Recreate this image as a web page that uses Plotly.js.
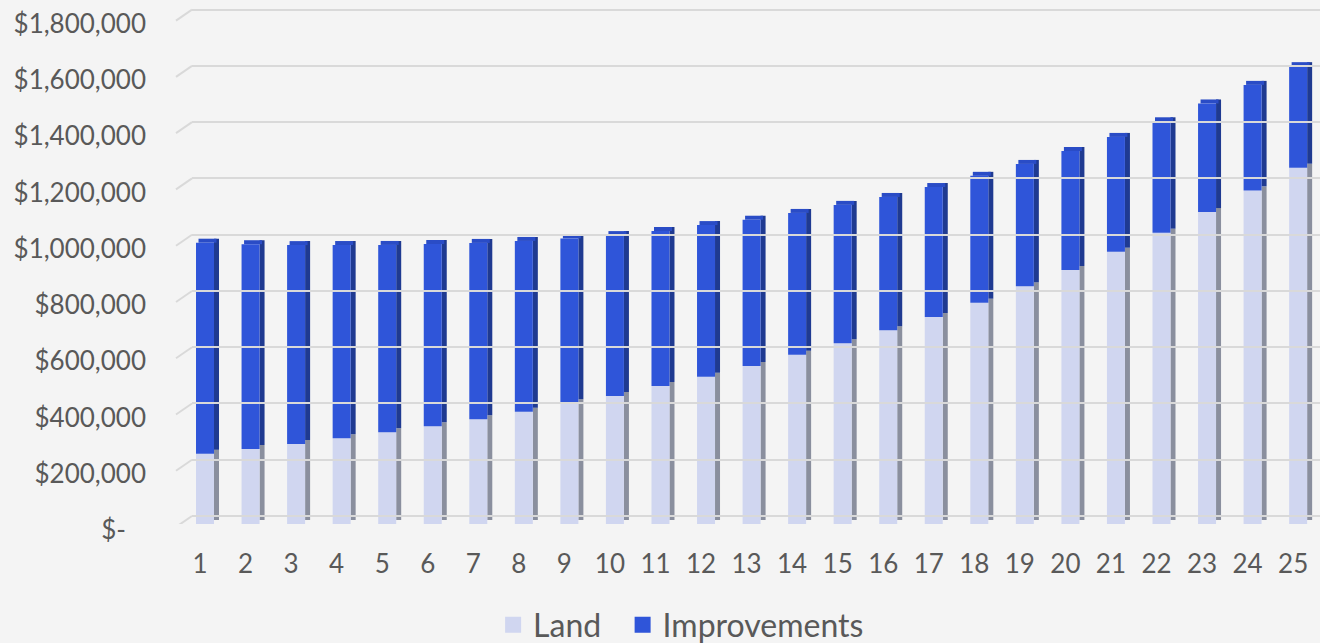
<!DOCTYPE html>
<html>
<head>
<meta charset="utf-8">
<script src="https://cdn.plot.ly/plotly-3.0.1.min.js"></script>
<style>
  html, body { margin: 0; padding: 0; background: #f4f4f4; }
  #chart { width: 1320px; height: 643px; }
</style>
</head>
<body>
<div id="chart"></div>
<script>
// ---- data ----
const categories = ['1','2','3','4','5','6','7','8','9','10','11','12','13','14','15','16','17','18','19','20','21','22','23','24','25'];
const land = [250000, 266600, 284400, 304700, 326000, 347300, 372200, 399200, 429100, 455000, 490600, 523600, 561700, 601800, 642400, 688600, 735900, 786700, 845000, 903000, 968000, 1035600, 1109000, 1186000, 1266600];
const improvements = [750000, 728000, 707000, 687000, 666000, 648000, 627000, 607000, 586000, 572000, 551000, 539000, 520000, 504000, 492000, 474000, 462000, 451000, 435000, 423000, 408000, 396000, 386000, 375000, 361000];
const yTickVals = [0, 200000, 400000, 600000, 800000, 1000000, 1200000, 1400000, 1600000, 1800000];
const yTickText = ['$-\u00a0\u00a0\u00a0', '$200,000', '$400,000', '$600,000', '$800,000', '$1,000,000', '$1,200,000', '$1,400,000', '$1,600,000', '$1,800,000'];
const seriesNames = ['Land', 'Improvements'];

// ---- style ----
const TEXT = '#595959';
const FONT = 'Lato, "Open Sans", sans-serif';
const LAND_FRONT = '#d0d6f0', LAND_SIDE = '#8a8f9e';
const IMP_FRONT = '#2f55d9', IMP_SIDE = '#1f3a91', IMP_TOP = '#2a4cc6';
const FW = 0.395, SW = 0.11;          // front width, side width (category units)
const PX_PER_M = 281.3;                // pixel per 1,000,000
const PLOT_H = 520;                    // plot height in px
const YMAX = PLOT_H / PX_PER_M * 1e6;
const DEPTH = 4 / PX_PER_M * 1e6;      // vertical depth offset
const BACK = 8 / PX_PER_M * 1e6;       // back wall offset

const totals = land.map((v, i) => v + improvements[i]);

const traces = [
  // side faces
  { type: 'bar', x: categories, y: land, base: land.map(() => DEPTH), offset: FW/2, width: SW,
    marker: { color: LAND_SIDE, line: { width: 0 } }, showlegend: false, hoverinfo: 'skip' },
  { type: 'bar', x: categories, y: improvements, base: land.map(v => v + DEPTH), offset: FW/2, width: SW,
    marker: { color: IMP_SIDE, line: { width: 0 } }, showlegend: false, hoverinfo: 'skip' },
  // top face
  { type: 'bar', x: categories, y: totals.map(() => DEPTH), base: totals, offset: -FW/2 + SW/2, width: FW,
    marker: { color: IMP_TOP, line: { width: 0 } }, showlegend: false, hoverinfo: 'skip' },
  // front faces
  { type: 'bar', name: seriesNames[0], x: categories, y: land, base: land.map(() => 0), offset: -FW/2, width: FW,
    marker: { color: LAND_FRONT, line: { width: 0 } }, showlegend: false },
  { type: 'bar', name: seriesNames[1], x: categories, y: improvements, base: land, offset: -FW/2, width: FW,
    marker: { color: IMP_FRONT, line: { width: 0 } }, showlegend: false },
  // legend proxies
  { type: 'scatter', mode: 'markers', name: seriesNames[0] + '\u00a0\u00a0', x: [null], y: [null],
    marker: { symbol: 'square', size: 18, color: LAND_FRONT } },
  { type: 'scatter', mode: 'markers', name: seriesNames[1], x: [null], y: [null],
    marker: { symbol: 'square', size: 18, color: IMP_FRONT } },
  // gridline subplot dummy
  { type: 'scatter', x: [0], y: [0], xaxis: 'x2', yaxis: 'y2', mode: 'markers',
    marker: { opacity: 0 }, showlegend: false, hoverinfo: 'skip' }
];

const L = 180;
const shapes = yTickVals.map(v => ({
  type: 'line', xref: 'paper', yref: 'y2', layer: 'below',
  x0: -4 / 1140, x1: 12 / 1140, y0: v - 11 / PX_PER_M * 1e6, y1: v,
  line: { color: '#d9d9d9', width: 2 }
}));

const layout = {
  width: 1320, height: 643,
  paper_bgcolor: '#f4f4f4', plot_bgcolor: 'rgba(0,0,0,0)',
  margin: { l: L, r: 0, t: 643 - 119 - PLOT_H, b: 119 },
  barmode: 'overlay',
  font: { family: FONT, color: TEXT, size: 26 },
  showlegend: true,
  legend: { orientation: 'h', xref: 'container', yref: 'container', x: 0.516, xanchor: 'center',
            y: 0.028, yanchor: 'middle', font: { size: 32, color: TEXT }, bgcolor: 'rgba(0,0,0,0)',
            itemwidth: 30 },
  xaxis: { type: 'category', range: [-0.549, 24.48], showgrid: false, zeroline: false, showline: false,
           ticks: '', tickfont: { size: 26, color: TEXT }, ticklabelshift: -5, ticklabelstandoff: 22,
           fixedrange: true },
  yaxis: { range: [0, YMAX], showgrid: false, zeroline: false, showline: false, ticks: '',
           tickvals: yTickVals, ticktext: yTickText, tickfont: { size: 26, color: TEXT },
           ticklabelshift: 6, ticklabelstandoff: 33, fixedrange: true, ticklabeloverflow: 'allow' },
  xaxis2: { domain: [12 / 1140, 1], anchor: 'y2', range: [0, 1], visible: false, showgrid: false },
  yaxis2: { anchor: 'x2', range: [-BACK, YMAX - BACK], tickvals: yTickVals, showgrid: true,
            gridcolor: '#d9d9d9', gridwidth: 2, showticklabels: false, zeroline: false, ticks: '' },
  shapes: shapes
};

Plotly.newPlot('chart', traces, layout, { displayModeBar: false, staticPlot: true });
</script>
</body>
</html>
